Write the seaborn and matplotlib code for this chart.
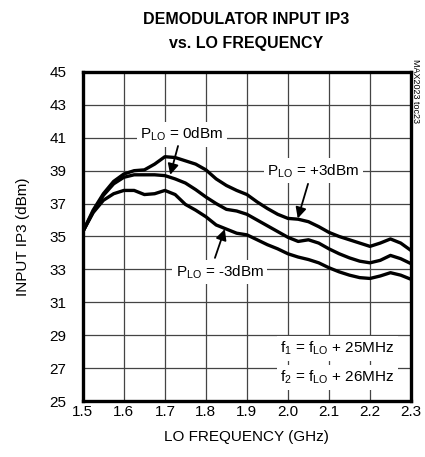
import pandas as pd
import numpy as np
import seaborn as sns
import matplotlib.pyplot as plt

freq = [1.500, 1.525, 1.550, 1.575, 1.600, 1.625, 1.650, 1.675, 1.700, 1.725, 1.750,
        1.775, 1.800, 1.825, 1.850, 1.875, 1.900, 1.925, 1.950, 1.975, 2.000, 2.025,
        2.050, 2.075, 2.100, 2.125, 2.150, 2.175, 2.200, 2.225, 2.250, 2.275, 2.300]
ip3_p3 = [35.3, 36.6, 37.6, 38.35, 38.8, 39.0, 39.05, 39.4, 39.85, 39.8, 39.6,
          39.4, 39.05, 38.5, 38.1, 37.8, 37.55, 37.1, 36.7, 36.35, 36.1, 36.05,
          35.9, 35.6, 35.25, 35.0, 34.8, 34.6, 34.4, 34.6, 34.85, 34.6, 34.15]
ip3_0 = [35.3, 36.5, 37.5, 38.2, 38.6, 38.75, 38.75, 38.75, 38.7, 38.5, 38.25,
         37.85, 37.4, 37.0, 36.65, 36.55, 36.35, 36.0, 35.65, 35.3, 34.95, 34.7,
         34.8, 34.6, 34.25, 33.95, 33.7, 33.5, 33.4, 33.55, 33.85, 33.65, 33.35]
ip3_m3 = [35.3, 36.45, 37.2, 37.6, 37.8, 37.8, 37.55, 37.6, 37.8, 37.55, 36.95,
          36.6, 36.2, 35.7, 35.45, 35.2, 35.1, 34.8, 34.5, 34.25, 33.95, 33.75,
          33.6, 33.4, 33.1, 32.85, 32.65, 32.5, 32.45, 32.6, 32.8, 32.65, 32.4]
series = ['+3dBm', '0dBm', '-3dBm']

df = pd.DataFrame({
    'freq': freq * 3,
    'ip3': ip3_p3 + ip3_0 + ip3_m3,
    'plo': np.repeat(series, len(freq)),
})

sns.set_style('white')
plt.rcParams['font.family'] = ['Liberation Sans', 'DejaVu Sans']
plt.rcParams['text.color'] = 'black'
plt.rcParams['axes.labelcolor'] = 'black'
plt.rcParams['xtick.color'] = 'black'
plt.rcParams['ytick.color'] = 'black'
plt.rcParams['mathtext.fontset'] = 'custom'
plt.rcParams['mathtext.rm'] = 'Liberation Sans'

fig = plt.figure(figsize=(4.25, 4.57), dpi=100)
ax = fig.add_axes([0.195, 0.1225, 0.772, 0.72])

sns.lineplot(data=df, x='freq', y='ip3', units='plo', estimator=None,
             color='black', lw=2.4, ax=ax, legend=False,
             solid_joinstyle='round', solid_capstyle='round')

ax.set_xlim(1.5, 2.3)
ax.set_ylim(25, 45)
xt = [1.5, 1.6, 1.7, 1.8, 1.9, 2.0, 2.1, 2.2, 2.3]
ax.set_xticks(xt)
ax.set_xticklabels([f'{v:.1f}' for v in xt])
ax.set_yticks(np.arange(25, 46, 2))
ax.tick_params(labelsize=11, length=0)
ax.tick_params(axis='y', pad=12)
ax.tick_params(axis='x', pad=3)
ax.grid(True, color='#444444', lw=0.9)
for s in ax.spines.values():
    s.set_linewidth(2.4)
    s.set_color('black')

ax.set_xlabel('LO FREQUENCY (GHz)', fontsize=11, labelpad=8)
ax.set_ylabel('INPUT IP3 (dBm)', fontsize=11, labelpad=14)

fig.text(0.578, 0.931, 'DEMODULATOR INPUT IP3\nvs. LO FREQUENCY', ha='center', va='center',
         fontsize=11.5, fontweight='bold', linespacing=1.7)
fig.text(0.978, 0.8, 'MAX2023 toc23', rotation=270, ha='center', va='center', fontsize=6.5)

box = dict(facecolor='white', edgecolor='none', pad=2.5)
arrow = dict(arrowstyle='-|>', color='black', lw=1.3, mutation_scale=16, shrinkA=0, shrinkB=0)

ax.text(1.741, 41.2, 'P$_{\\rm LO}$ = 0dBm', ha='center', va='center', fontsize=11, bbox=box)
ax.annotate('', xy=(1.713, 38.75), xytext=(1.732, 40.5), arrowprops=arrow)

ax.text(2.062, 39.0, 'P$_{\\rm LO}$ = +3dBm', ha='center', va='center', fontsize=11, bbox=box)
ax.annotate('', xy=(2.024, 36.1), xytext=(2.049, 38.2), arrowprops=arrow)

ax.text(1.834, 32.85, 'P$_{\\rm LO}$ = -3dBm', ha='center', va='center', fontsize=11, bbox=box)
ax.annotate('', xy=(1.846, 35.45), xytext=(1.822, 33.7), arrowprops=arrow)

ax.text(2.12, 28.2, 'f$_1$ = f$_{\\rm LO}$ + 25MHz', ha='center', va='center', fontsize=11, bbox=box)
ax.text(2.12, 26.45, 'f$_2$ = f$_{\\rm LO}$ + 26MHz', ha='center', va='center', fontsize=11, bbox=box)

fig.savefig('out.png', dpi=100)
